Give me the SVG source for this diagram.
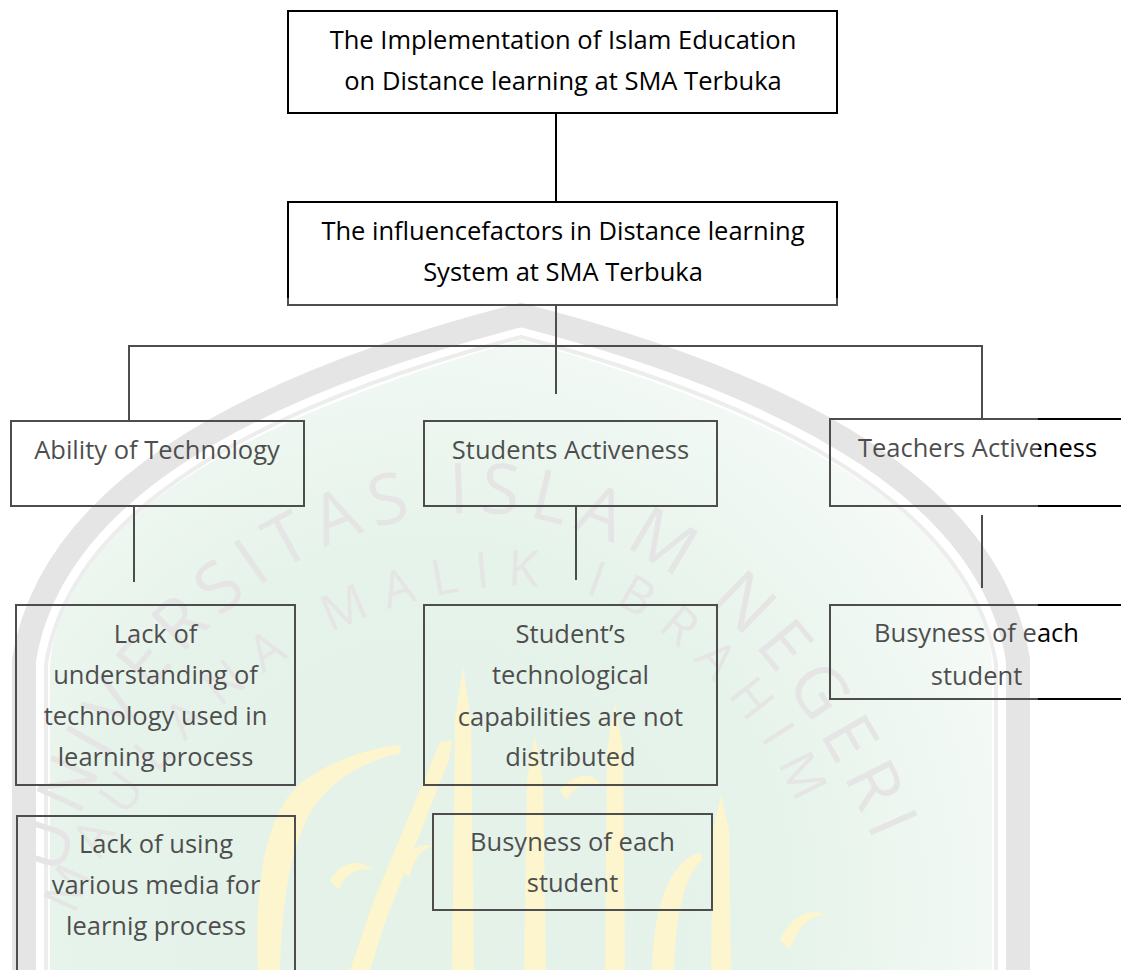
<svg xmlns="http://www.w3.org/2000/svg" width="1121" height="970" viewBox="0 0 1121 970">
  <defs>
    <style>
      .box { fill: none; stroke: #000; stroke-width: 2; }
      .conn { fill: none; stroke: #000; stroke-width: 2; }
      .t { font-family: "Open Sans", "Liberation Sans", sans-serif; font-size: 25.5px; fill: #000; text-anchor: middle; }
      .wm { font-family: "Open Sans", "Liberation Sans", sans-serif; fill: #dadada; }
      .cal { fill: #fbf1b9; }
    </style>
    <radialGradient id="greenGrad" cx="430" cy="900" r="640" gradientUnits="userSpaceOnUse">
      <stop offset="0" stop-color="#d8ecdf"/>
      <stop offset="0.55" stop-color="#dbeee1"/>
      <stop offset="1" stop-color="#f3f9f5"/>
    </radialGradient>
    <path id="arcOuter" d="M 48 950 C 66 790 150 660 275 575 C 370 515 480 492 592 535 C 705 575 810 675 890 880"/>
    <path id="arcInner" d="M 70 930 C 120 780 260 640 420 600 C 520 575 600 580 670 640 C 740 700 790 770 815 850"/>
  </defs>

  <rect x="0" y="0" width="1121" height="970" fill="#fff"/>

  <g id="watermark">
    <path d="M 50 970 L 50 665 C 62 520 245 418 521 340 C 797 418 980 520 992 665 L 992 970 Z" fill="url(#greenGrad)"/>
    <path d="M 24 970 L 24 660 C 50 500 230 390 521 315 C 812 390 992 500 1018 660 L 1018 970" fill="none" stroke="#dadada" stroke-width="24"/>
    <path d="M 46 970 L 46 664 C 70 515 245 410 521 337 C 797 410 972 515 996 664 L 996 970" fill="none" stroke="#e6e6e6" stroke-width="4"/>
    <text class="wm" font-size="70" letter-spacing="10"><textPath href="#arcOuter" startOffset="75">UNIVERSITAS ISLAM NEGERI</textPath></text>
    <text class="wm" font-size="50" letter-spacing="17"><textPath href="#arcInner" startOffset="15">MAULANA MALIK IBRAHIM</textPath></text>
    <path class="cal" d="M 452 970 L 455 720 L 463 667 L 471 720 L 474 970 Z"/>
    <path class="cal" d="M 524 970 L 527 780 L 535 735 L 543 780 L 546 970 Z"/>
    <path class="cal" d="M 605 970 L 607 750 L 615 702 L 623 750 L 625 970 Z"/>
    <path class="cal" d="M 711 970 L 713 830 L 721 795 L 729 830 L 731 970 Z"/>
    <path class="cal" d="M 350 970 L 374 900 L 440 742 L 452 740 L 449 760 L 386 920 L 370 970 Z"/>
    <path class="cal" d="M 258 970 C 254 880 266 812 302 782 C 332 760 370 748 400 745 L 401 753 C 362 762 332 780 312 810 C 288 850 282 910 280 970 Z"/>
    <path class="cal" d="M 652 970 C 654 902 670 862 700 852 L 703 860 C 686 872 676 910 674 970 Z"/>
    <path class="cal" d="M 330 880 C 340 862 360 857 372 870 C 360 867 346 873 338 890 Z"/>
    <path class="cal" d="M 560 790 C 575 772 595 772 600 785 C 588 781 575 786 566 800 Z"/>
    <path class="cal" d="M 780 940 C 790 917 810 907 825 915 C 810 916 798 926 790 950 Z"/>
    <path class="cal" d="M 400 870 C 405 852 420 842 432 846 C 420 851 412 861 410 878 Z"/>
  </g>

  <g id="connectors">
    <line class="conn" x1="556" y1="113" x2="556" y2="202"/>
    <line class="conn" x1="556" y1="305" x2="556" y2="394"/>
    <polyline class="conn" points="129,421 129,346 982,346 982,420"/>
    <line class="conn" x1="134" y1="506" x2="134" y2="582"/>
    <line class="conn" x1="576" y1="506" x2="576" y2="580"/>
    <line class="conn" x1="982" y1="515" x2="982" y2="588"/>
  </g>

  <g id="node-top">
    <rect class="box" x="288" y="11" width="549" height="102" fill="#fff"/>
    <text class="t" x="563" y="49">The Implementation of Islam Education</text>
    <text class="t" x="563" y="90">on Distance learning at SMA Terbuka</text>
  </g>

  <g id="node-factors">
    <rect class="box" x="288" y="202" width="549" height="103"/>
    <text class="t" x="563" y="240">The influencefactors in Distance learning</text>
    <text class="t" x="563" y="281">System at SMA Terbuka</text>
  </g>

  <g id="node-ability">
    <rect class="box" x="11" y="421" width="293" height="85"/>
    <text class="t" x="157" y="459">Ability of Technology</text>
  </g>

  <g id="node-students">
    <rect class="box" x="424" y="421" width="293" height="85"/>
    <text class="t" x="570.5" y="459">Students Activeness</text>
  </g>

  <g id="node-teachers">
    <rect class="box" x="830" y="419" width="300" height="87"/>
    <text class="t" x="977.5" y="457">Teachers Activeness</text>
  </g>

  <g id="node-lack-understanding">
    <rect class="box" x="16" y="605" width="279" height="180"/>
    <text class="t" x="155.5" y="643">Lack of</text>
    <text class="t" x="155.5" y="684">understanding of</text>
    <text class="t" x="155.5" y="725">technology used in</text>
    <text class="t" x="155.5" y="766">learning process</text>
  </g>

  <g id="node-lack-media">
    <path class="box" d="M 17 975 L 17 816 L 295 816 L 295 975"/>
    <text class="t" x="156" y="853">Lack of using</text>
    <text class="t" x="156" y="894">various media for</text>
    <text class="t" x="156" y="935">learnig process</text>
  </g>

  <g id="node-student-tech">
    <rect class="box" x="424" y="605" width="293" height="180"/>
    <text class="t" x="570.5" y="643">Student’s</text>
    <text class="t" x="570.5" y="684">technological</text>
    <text class="t" x="570.5" y="726">capabilities are not</text>
    <text class="t" x="570.5" y="766">distributed</text>
  </g>

  <g id="node-busyness-mid">
    <rect class="box" x="433" y="814" width="279" height="96"/>
    <text class="t" x="572.5" y="851">Busyness of each</text>
    <text class="t" x="572.5" y="892">student</text>
  </g>

  <g id="node-busyness-right">
    <rect class="box" x="830" y="605" width="300" height="94"/>
    <text class="t" x="976.5" y="642">Busyness of each</text>
    <text class="t" x="976.5" y="685">student</text>
  </g>

  <rect id="watermark-veil" x="0" y="298" width="1038" height="672" fill="#fff" opacity="0.3"/>
</svg>
